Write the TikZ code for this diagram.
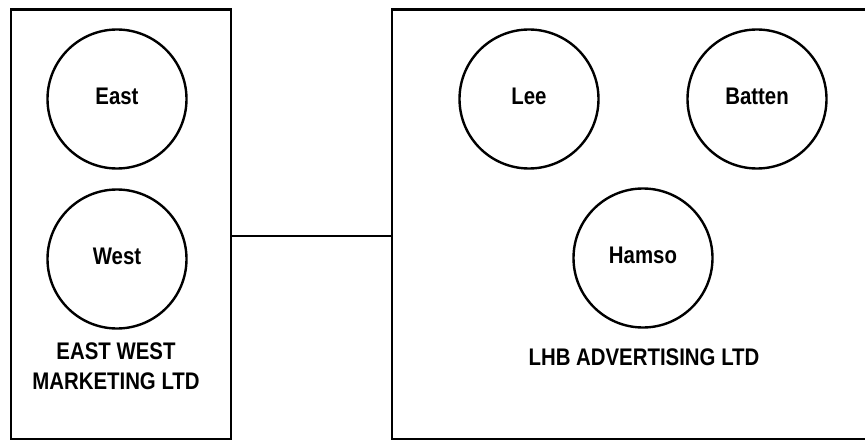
\documentclass[tikz,border=0pt]{standalone}
\usepackage{fontspec}
\setmainfont{Liberation Sans}[FakeStretch=0.85]

\begin{document}
\begin{tikzpicture}[x=1pt,y=-1pt,
	member/.style={draw,circle,line width=2.4pt,minimum size=139pt,inner sep=0pt,text depth=6pt,font=\bfseries\fontsize{24}{30}\selectfont},
	company/.style={draw,rectangle,line width=2.6pt,anchor=north west,inner sep=0pt,outer sep=0pt},
	firm/.style={align=center,font=\bfseries\fontsize{24}{30}\selectfont}]
	\useasboundingbox (0,0) rectangle (865,441);
	\node at (11,9.5)[company,minimum width=220pt,minimum height=429.5pt] (ewm) {};
	\node at (392,9.5)[company,minimum width=488pt,minimum height=429.5pt] (lhb) {};
	\node at (117,99)[member] (east) {East};
	\node at (117,259)[member] (west) {West};
	\node at (529,99)[member] (lee) {Lee};
	\node at (757,99)[member] (batten) {Batten};
	\node at (643,258)[member] (hamso) {Hamso};
	\node at (116,366.5)[firm] (ewmname) {EAST WEST\\MARKETING LTD};
	\node at (644,357.5)[firm] (lhbname) {LHB ADVERTISING LTD};
	\coordinate (link) at (0,236);
	\draw[line width=2.6pt] (ewm.east |- link)--(lhb.west |- link);
\end{tikzpicture}
\end{document}
